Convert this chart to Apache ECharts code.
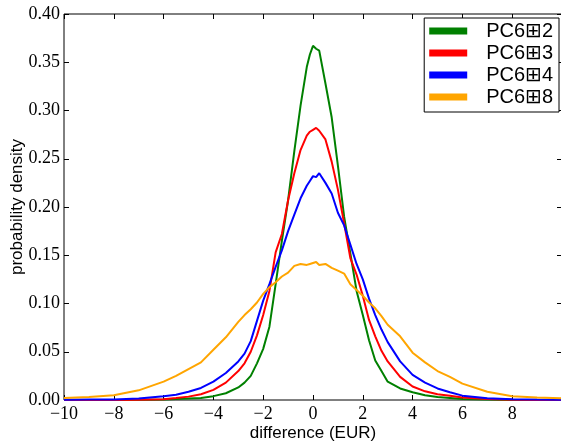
<!DOCTYPE html>
<html>
<head>
<meta charset="utf-8">
<script src="https://cdn.jsdelivr.net/npm/echarts@6/dist/echarts.min.js"></script>
<style>
  html, body { margin: 0; padding: 0; background: #fff; }
  #chart { width: 561px; height: 446px; }
</style>
</head>
<body>
<div id="chart"></div>
<script>
// Difference values (EUR) at which the densities are sampled
const xs = [-10, -9, -8, -7, -6, -5.5, -5, -4.5, -4, -3.5, -3, -2.75, -2.5, -2.25, -2, -1.75, -1.5, -1.25, -1, -0.75, -0.5, -0.25, -0.125,
  0, 0.125, 0.25, 0.5, 0.75, 1, 1.25, 1.5, 1.75, 2, 2.25, 2.5, 2.75, 3, 3.5, 4, 4.5, 5, 5.5, 6, 7, 8, 9, 10];

// Probability densities per series
const pc2 = [0, 0, 0, 0.0002, 0.0005, 0.001, 0.0015, 0.002, 0.004, 0.007, 0.013, 0.018, 0.025, 0.038, 0.053, 0.076, 0.12, 0.165, 0.207, 0.258, 0.305, 0.345, 0.358,
  0.367, 0.364, 0.362, 0.328, 0.293, 0.243, 0.19, 0.152, 0.113, 0.088, 0.062, 0.041, 0.03, 0.019, 0.012, 0.008, 0.005, 0.003, 0.002, 0.001, 0.0004, 0.0001, 0, 0];
const pc3 = [0, 0, 0.0001, 0.0003, 0.0008, 0.002, 0.0035, 0.006, 0.0105, 0.018, 0.03, 0.038, 0.05, 0.067, 0.088, 0.113, 0.153, 0.172, 0.207, 0.235, 0.259, 0.274, 0.278,
  0.28, 0.282, 0.279, 0.27, 0.247, 0.218, 0.183, 0.147, 0.13, 0.108, 0.083, 0.066, 0.051, 0.04, 0.024, 0.014, 0.009, 0.006, 0.0045, 0.0025, 0.001, 0.0003, 0.0001, 0];
const pc4 = [0.0002, 0.0004, 0.0006, 0.0015, 0.004, 0.0055, 0.0085, 0.0125, 0.019, 0.028, 0.04, 0.048, 0.061, 0.082, 0.103, 0.12, 0.138, 0.155, 0.175, 0.192, 0.209, 0.222, 0.227,
  0.232, 0.231, 0.235, 0.225, 0.214, 0.194, 0.181, 0.161, 0.141, 0.125, 0.105, 0.088, 0.073, 0.06, 0.04, 0.026, 0.018, 0.012, 0.008, 0.0045, 0.0017, 0.0008, 0.0004, 0.0002];
const pc8 = [0.002, 0.003, 0.005, 0.01, 0.019, 0.025, 0.032, 0.039, 0.052, 0.065, 0.081, 0.088, 0.094, 0.101, 0.11, 0.117, 0.122, 0.128, 0.132, 0.139, 0.141, 0.14, 0.141,
  0.142, 0.143, 0.14, 0.141, 0.137, 0.134, 0.131, 0.12, 0.114, 0.108, 0.101, 0.095, 0.087, 0.078, 0.066, 0.049, 0.039, 0.03, 0.024, 0.017, 0.0085, 0.004, 0.0025, 0.0017];

const seriesNames = ['PC6\u229E2', 'PC6\u229E3', 'PC6\u229E4', 'PC6\u229E8'];
const seriesValues = [pc2, pc3, pc4, pc8];
const seriesColors = ['#008000', '#ff0000', '#0000ff', '#ffa500'];

const xTicks = { min: -10, max: 10, interval: 2 };
const yTicks = { min: 0, max: 0.4, interval: 0.05 };

const tickFont = { fontFamily: 'Liberation Serif', fontSize: 18, color: '#000' };
const sansFont = 'Liberation Sans, DejaVu Sans, sans-serif';

function fmtX(v) {
  if (v >= 10) return '';
  return v < 0 ? '\u2212' + Math.abs(v) : String(v);
}

const tickStyle = { inside: true, length: 5, lineStyle: { color: '#000' } };
const noLine = { show: false, onZero: false };

const chart = echarts.init(document.getElementById('chart'), null, { renderer: 'canvas' });

chart.setOption({
  animation: false,
  backgroundColor: '#fff',
  grid: {
    left: 64, top: 14, right: -1, bottom: 46,
    show: true, borderColor: '#000', borderWidth: 1,
    containLabel: false, outerBoundsMode: 'none'
  },
  legend: {
    orient: 'vertical',
    right: 2,
    top: 18,
    padding: [3, 6, 5, 5],
    itemGap: 2,
    itemWidth: 38,
    itemHeight: 7,
    icon: 'rect',
    backgroundColor: '#fff',
    borderColor: '#000',
    borderWidth: 1,
    borderRadius: 0,
    textStyle: { fontFamily: sansFont, fontSize: 20, lineHeight: 20, color: '#000', padding: [0, 0, 0, 14] },
    data: seriesNames
  },
  xAxis: [
    {
      type: 'value', ...xTicks,
      name: 'difference (EUR)', nameLocation: 'middle', nameGap: 25, nameMoveOverlap: false,
      nameTextStyle: { fontFamily: sansFont, fontSize: 17, color: '#000' },
      axisLine: noLine,
      axisTick: tickStyle,
      axisLabel: { ...tickFont, margin: 5, formatter: fmtX, showMaxLabel: true },
      splitLine: { show: false }
    },
    {
      type: 'value', position: 'top', ...xTicks,
      axisLine: noLine,
      axisTick: tickStyle,
      axisLabel: { show: false },
      splitLine: { show: false }
    }
  ],
  yAxis: [
    {
      type: 'value', ...yTicks,
      name: 'probability density', nameLocation: 'middle', nameGap: 38, nameMoveOverlap: false,
      nameTextStyle: { fontFamily: sansFont, fontSize: 17, color: '#000' },
      axisLine: noLine,
      axisTick: tickStyle,
      axisLabel: { ...tickFont, margin: 4, formatter: v => v.toFixed(2) },
      splitLine: { show: false }
    },
    {
      type: 'value', position: 'right', ...yTicks,
      axisLine: noLine,
      axisTick: tickStyle,
      axisLabel: { show: false },
      splitLine: { show: false }
    }
  ],
  series: seriesNames.map((name, i) => ({
    name,
    type: 'line',
    showSymbol: false,
    symbol: 'none',
    smooth: false,
    lineStyle: { width: 2, color: seriesColors[i] },
    itemStyle: { color: seriesColors[i] },
    data: xs.map((x, j) => [x, seriesValues[i][j]])
  }))
});
</script>
</body>
</html>
